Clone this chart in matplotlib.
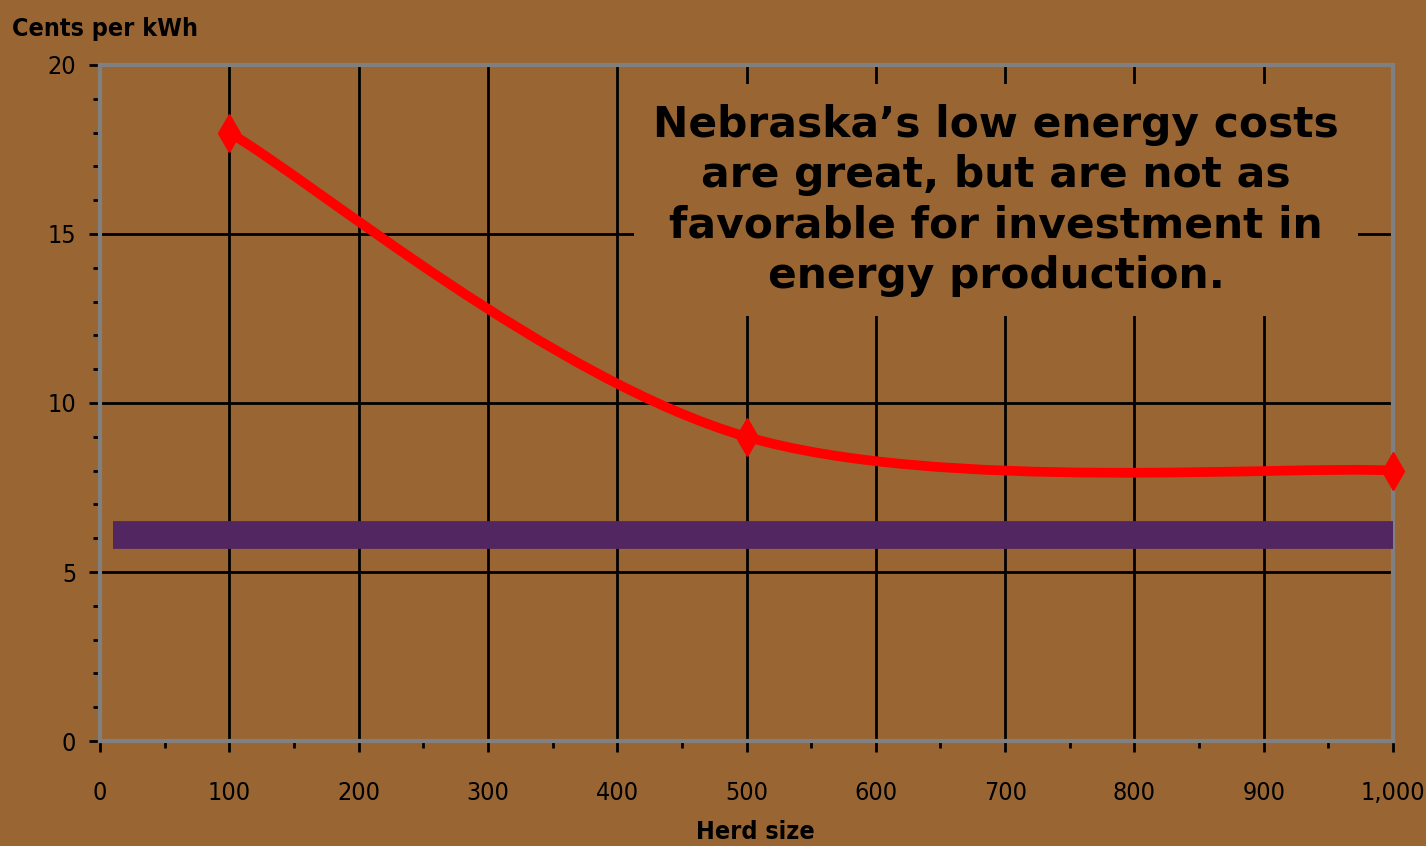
import matplotlib
matplotlib.use("Agg")
import matplotlib.pyplot as plt
from matplotlib.path import Path
from matplotlib.patches import PathPatch
from matplotlib.ticker import MultipleLocator, FuncFormatter

# cost of on-farm digester power vs herd size
herd_size = [100, 500, 1000]
cents_per_kwh = [18, 9, 8]

# Nebraska retail power rate
rate_x = [10, 1000]
rate_y = [6.1, 6.1]

note = ("Nebraska\u2019s low energy costs\nare great, but are not as\n"
        "favorable for investment in\nenergy production.")

BG = "#996633"
narrow = dict(family="DejaVu Sans", stretch="condensed")


def smooth_path(xs, ys, k=1 / 6):
    # Bezier segments through every point, like a spreadsheet's smoothed line
    pts = list(zip(xs, ys))
    verts = [pts[0]]
    codes = [Path.MOVETO]
    n = len(pts)
    for i in range(n - 1):
        p0 = pts[i - 1] if i > 0 else pts[i]
        p1, p2 = pts[i], pts[i + 1]
        p3 = pts[i + 2] if i + 2 < n else pts[i + 1]
        c1 = (p1[0] + (p2[0] - p0[0]) * k, p1[1] + (p2[1] - p0[1]) * k)
        c2 = (p2[0] - (p3[0] - p1[0]) * k, p2[1] - (p3[1] - p1[1]) * k)
        verts += [c1, c2, p2]
        codes += [Path.CURVE4] * 3
    return Path(verts, codes)


fig = plt.figure(figsize=(14.26, 8.46), dpi=100, facecolor=BG)
ax = fig.add_axes([0.0701, 0.1241, 0.9068, 0.7991], facecolor=BG)

ax.set_xlim(0, 1000)
ax.set_ylim(0, 20)
ax.xaxis.set_major_locator(MultipleLocator(100))
ax.xaxis.set_minor_locator(MultipleLocator(50))
ax.yaxis.set_major_locator(MultipleLocator(5))
ax.yaxis.set_minor_locator(MultipleLocator(1))
ax.xaxis.set_major_formatter(FuncFormatter(lambda v, p: f"{int(v):,}"))

ax.set_axisbelow(True)
ax.grid(True, which="major", color="black", linewidth=2)
for s in ax.spines.values():
    s.set_color("#808080")
    s.set_linewidth(3)

ax.tick_params(which="both", direction="out", color="black", width=2)
ax.tick_params(which="major", length=8)
ax.tick_params(which="minor", length=5)
ax.tick_params(axis="x", which="major", pad=21)
ax.tick_params(axis="y", which="major", pad=9)
for lab in ax.get_xticklabels() + ax.get_yticklabels():
    lab.set_family(narrow["family"])
    lab.set_stretch(narrow["stretch"])
    lab.set_fontsize(18)

ax.plot(rate_x, rate_y, color="#522660", linewidth=20,
        solid_capstyle="butt", zorder=3)

ax.add_patch(PathPatch(smooth_path(herd_size, cents_per_kwh), facecolor="none",
                       edgecolor="red", linewidth=7, zorder=4))
ax.plot(herd_size, cents_per_kwh, linestyle="none", marker="d",
        markersize=19, color="red", zorder=5, clip_on=False)

ax.text(693, 16.0, note, ha="center", va="center", fontsize=30.5,
        fontweight="bold", family="DejaVu Sans", linespacing=1.25,
        bbox=dict(facecolor=BG, edgecolor="none", pad=14), zorder=6)

fig.text(12 / 1426, 1 - 36 / 846, "Cents per kWh", fontsize=18,
         fontweight="bold", va="baseline", **narrow)
fig.text(755 / 1426, 1 - 839 / 846, "Herd size", fontsize=18,
         fontweight="bold", ha="center", va="baseline", **narrow)

fig.savefig("out.png", dpi=100, facecolor=BG)
